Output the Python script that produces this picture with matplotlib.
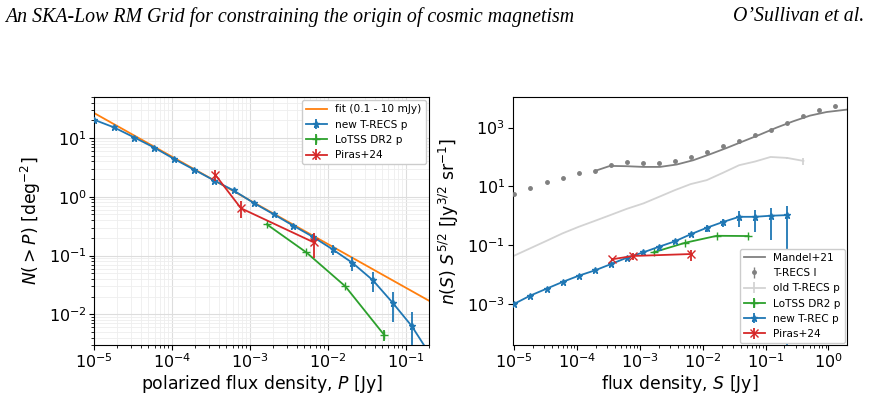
import matplotlib
matplotlib.use("Agg")
import matplotlib.pyplot as plt
import numpy as np

# ---------------- data ----------------
# common bin centres [Jy]
s_bins = [1.0e-5, 1.8e-5, 3.3e-5, 5.9e-5, 1.07e-4, 1.94e-4, 3.5e-4, 6.2e-4,
          1.14e-3, 2.02e-3, 3.6e-3, 6.4e-3, 1.16e-2, 2.08e-2, 3.8e-2, 6.8e-2,
          0.12, 0.22, 0.40, 0.71, 1.27]

# Left panel: cumulative counts N(>P)
left_new_x = s_bins[:18]
left_new_y = [20.5, 15.2, 10.2, 6.9, 4.4, 2.88, 1.89, 1.28, 0.776, 0.505,
              0.323, 0.21, 0.127, 0.075, 0.038, 0.0158, 0.0063, 0.0018]
left_new_err = [0.3, 0.25, 0.15, 0.1, 0.06, 0.04, 0.03, 0.02, 0.015, 0.012,
                0.01, 0.02, 0.025, 0.02, 0.0145, 0.0085, 0.0047, 0.0025]

fit_x = [1.0e-5, 0.2]
fit_y = [26.7, 0.017]

left_lotss_x = [1.65e-3, 5.3e-3, 1.68e-2, 5.35e-2]
left_lotss_y = [0.34, 0.1135, 0.030, 0.0044]
left_lotss_err = [0.005, 0.002, 0.001, 0.0009]

left_piras_x = [3.6e-4, 7.7e-4, 6.6e-3]
left_piras_y = [2.37, 0.638, 0.168]
left_piras_err = [0.5, 0.2, 0.078]

# Right panel: Euclidean-normalised differential counts
mandel_x = [1.94e-4, 3.36e-4, 6.2e-4, 1.14e-3, 2.09e-3, 3.86e-3, 7.08e-3,
            1.31e-2, 2.41e-2, 4.43e-2, 8.15e-2, 0.150, 0.275, 0.508, 0.935, 1.95]
mandel_y = [33.6, 49.7, 48.5, 45.9, 45.9, 55.4, 77.6, 124, 203, 343, 578,
            1000, 1637, 2553, 3388, 4083]

trecs_i_y = [5.43, 8.9, 13.9, 19.0, 27.4, 33.6, 52.5, 68, 64.8, 61.4, 71.8,
             98, 142, 232, 351, 578, 855, 1479, 2422, 4083, 5585]

old_trecs_x = s_bins[:19]
old_trecs_y = [0.0437, 0.0778, 0.141, 0.252, 0.422, 0.674, 1.08, 1.72, 2.63,
               4.4, 7.43, 11.9, 16.3, 28.7, 52.5, 70, 100, 92.9, 73.5]
old_trecs_err = [0]*17 + [8, 22]

right_lotss_x = [1.65e-3, 5.3e-3, 1.68e-2, 5.35e-2]
right_lotss_y = [0.057, 0.121, 0.208, 0.204]

right_new_x = s_bins[:18]
right_new_y = [1.0e-3, 1.91e-3, 3.31e-3, 5.59e-3, 9.14e-3, 1.39e-2, 2.28e-2,
               3.73e-2, 5.70e-2, 8.83e-2, 0.1346, 0.233, 0.39, 0.609, 0.92,
               0.92, 1.0, 1.05]
right_new_err = [2e-5, 4e-5, 7e-5, 1.2e-4, 2e-4, 3e-4, 5e-4, 9e-4, 1.5e-3,
                 2.5e-3, 5e-3, 0.03, 0.1, 0.18, 0.5, 0.64, 0.85, 1.08]

right_piras_x = [3.6e-4, 7.7e-4, 6.6e-3]
right_piras_y = [0.033, 0.0427, 0.0499]
right_piras_err = [0.004, 0.012, 0.02]

# ---------------- figure ----------------
plt.rcParams['font.family'] = ['DejaVu Sans']
plt.rcParams['mathtext.fontset'] = 'dejavusans'

fig = plt.figure(figsize=(8.69, 3.96), dpi=100)

fig.text(0.006, 0.958, "An SKA-Low RM Grid for constraining the origin of cosmic magnetism",
         family='Liberation Serif', style='italic', fontsize=14.3, ha='left', va='center')
fig.text(0.994, 0.958, "O\u2019Sullivan et al.",
         family='Liberation Serif', style='italic', fontsize=14.3, ha='right', va='center')

ax1 = fig.add_axes([0.1082, 0.1288, 0.3855, 0.6263])
ax2 = fig.add_axes([0.590, 0.1288, 0.3843, 0.6263])

blue = '#1f77b4'
orange = '#ff7f0e'
green = '#2ca02c'
red = '#d62728'

# Left panel
ax1.plot(fit_x, fit_y, color=orange, lw=1.3, label='fit (0.1 - 10 mJy)', zorder=2)
ax1.errorbar(left_new_x, left_new_y, yerr=left_new_err, color=blue, marker='*',
             ms=5, lw=1.3, elinewidth=1.3, label='new T-RECS p', zorder=3)
ax1.errorbar(left_lotss_x, left_lotss_y, yerr=left_lotss_err, color=green, marker='+',
             ms=6, lw=1.3, elinewidth=1.3, label='LoTSS DR2 p', zorder=3)
ax1.errorbar(left_piras_x, left_piras_y, yerr=left_piras_err, color=red, marker='x',
             ms=6, lw=1.3, elinewidth=1.3, label='Piras+24', zorder=4)
ax1.set_xscale('log')
ax1.set_yscale('log')
ax1.set_xlim(1e-5, 0.2)
ax1.set_ylim(3e-3, 50)
ax1.grid(True, which='major', color='#dddddd', lw=0.8)
ax1.grid(True, which='minor', color='#eeeeee', lw=0.6)
ax1.set_axisbelow(True)
ax1.set_xlabel(r'polarized flux density, $P$ [Jy]', fontsize=12.4, labelpad=1)
ax1.set_ylabel(r'$N(>P)$ [deg$^{-2}$]', fontsize=12.4)
ax1.tick_params(labelsize=11.5, pad=2)
ax1.legend(loc='upper right', fontsize=7.6, framealpha=1.0, borderaxespad=0.3,
           handlelength=2.0)

# Right panel
ax2.plot(mandel_x, mandel_y, color='#808080', lw=1.3, label='Mandel+21', zorder=2)
ax2.errorbar(s_bins, trecs_i_y, yerr=[v * 0.02 for v in trecs_i_y], color='#808080',
             marker='.', ms=5, ls='none', elinewidth=1.0, label='T-RECS I', zorder=3)
ax2.errorbar(old_trecs_x, old_trecs_y, yerr=old_trecs_err, color='#d3d3d3',
             lw=1.3, elinewidth=1.3, capsize=0, label='old T-RECS p', zorder=2)
ax2.errorbar(right_lotss_x, right_lotss_y, yerr=[v * 0.02 for v in right_lotss_y],
             color=green, marker='+', ms=6, lw=1.3, elinewidth=1.3,
             label='LoTSS DR2 p', zorder=3)
ax2.errorbar(right_new_x, right_new_y, yerr=right_new_err, color=blue, marker='*',
             ms=5, lw=1.3, elinewidth=1.3, label='new T-REC p', zorder=3)
ax2.errorbar(right_piras_x, right_piras_y, yerr=right_piras_err, color=red, marker='x',
             ms=6, lw=1.3, elinewidth=1.3, label='Piras+24', zorder=4)
ax2.set_xscale('log')
ax2.set_yscale('log')
ax2.set_xlim(9.5e-6, 1.95)
ax2.set_ylim(4e-5, 1.1e4)
ax2.set_xlabel(r'flux density, $S$ [Jy]', fontsize=12.4, labelpad=1)
ax2.set_ylabel(r'$n(S)\ S^{5/2}$ [Jy$^{3/2}$ sr$^{-1}$]', fontsize=12.4)
ax2.tick_params(labelsize=11.5, pad=2)
ax2.legend(loc='lower right', fontsize=7.6, framealpha=1.0, borderaxespad=0.15,
           handlelength=2.0)

fig.savefig('out.png', dpi=100)
